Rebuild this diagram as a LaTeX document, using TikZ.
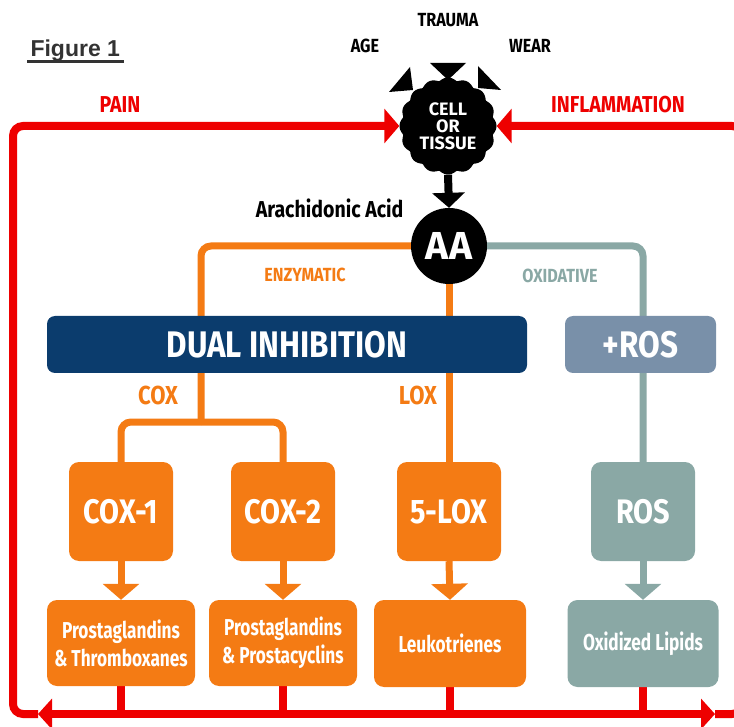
\documentclass[tikz,border=0pt]{standalone}
\usepackage{fontspec}
\setmainfont{Liberation Sans}
\newfontfamily\condfont[FakeStretch=0.85]{Fira Sans}
\newfontfamily\narrowfont[FakeStretch=0.75]{Fira Sans}
\newfontfamily\firafont{Fira Sans}
\usetikzlibrary{arrows.meta,backgrounds,calc}

\definecolor{painred}{HTML}{EE0000}
\definecolor{enzorange}{HTML}{F47B14}
\definecolor{oxteal}{HTML}{8AA8A5}
\definecolor{dualblue}{HTML}{0B3C6D}
\definecolor{rosslate}{HTML}{7990A9}
\definecolor{figgray}{HTML}{333333}

\tikzset{
  redline/.style={draw=painred, line width=8pt},
  orangeline/.style={draw=enzorange, line width=7pt},
  tealline/.style={draw=oxteal, line width=7pt},
  bigtip/.style={-{Triangle[length=16pt,width=36pt]}},
  redtip/.style={-{Triangle[length=15pt,width=34pt]}},
  bustip/.style={-{Triangle[length=14pt,width=30pt]}},
  capslabel/.style={font=\condfont\bfseries\fontsize{#1}{#1}\selectfont},
  bar/.style={rounded corners=8pt, text=white, inner sep=0pt,
    minimum height=57pt, font=\condfont\bfseries\fontsize{37}{40}\selectfont},
  enzyme/.style={rounded corners=10pt, fill=enzorange, text=white, inner sep=0pt,
    minimum width=104pt, minimum height=99pt, font=\condfont\bfseries\fontsize{34}{36}\selectfont},
  product/.style={rounded corners=10pt, fill=enzorange, text=white, inner sep=0pt,
    align=center, minimum width=148pt, minimum height=86pt, font=\narrowfont\bfseries\fontsize{23}{28}\selectfont}
}

\begin{document}
\begin{tikzpicture}[x=1pt, y=-1pt]
  \useasboundingbox (0,0) rectangle (734,727);

  % Title
  \node[anchor=base west, text=figgray, font=\bfseries\fontsize{23}{26}\selectfont] (fig) at (27,57) {Figure 1};
  \draw[figgray, line width=3pt] ([yshift=-5pt]fig.base west) -- ([yshift=-5pt]fig.base east);

  % Cell and causes
  \node[circle, minimum size=97pt, inner sep=0pt, text=white, align=center,
        font=\firafont\bfseries\fontsize{18}{17}\selectfont] (cell) at (448,126) {CELL\\OR\\TISSUE};
  \node[capslabel=19] (lbltrauma) at (448,20) {TRAUMA};
  \node[capslabel=19] (lblage) at (365,46) {AGE};
  \node[capslabel=19] (lblwear) at (530,46) {WEAR};
  \fill ($(cell)+(-18,-63)$) -- ($(cell)+(18,-63)$) -- ($(cell)+(0,-46)$) -- cycle; % trauma
  \fill ($(cell)+(-38,-59)$) -- ($(cell)+(-59,-34)$) -- ($(cell)+(-35,-36)$) -- cycle; % age
  \fill ($(cell)+(30,-60)$) -- ($(cell)+(30,-38)$) -- ($(cell)+(53,-36)$) -- cycle; % wear
  \node[capslabel=23, text=painred] (lblpain) at (120,105) {PAIN};
  \node[capslabel=23, text=painred] (lblinfl) at (618,105) {INFLAMMATION};

  % Arachidonic acid
  \node[circle, fill=black, minimum size=76pt, inner sep=0pt, text=white,
        font=\firafont\bfseries\fontsize{39}{40}\selectfont] (aa) at (449,246) {AA};
  \node[anchor=base east, font=\condfont\bfseries\fontsize{23}{24}\selectfont] (lblaa) at (407,218) {Arachidonic Acid};
  \node[capslabel=19, text=enzorange] (lblenz) at (305,275) {ENZYMATIC};
  \node[capslabel=19, text=oxteal] (lblox) at (560,276) {OXIDATIVE};

  % Inhibition bars
  \node[bar, fill=dualblue, minimum width=480pt] (dual) at (287,344.5) {DUAL INHIBITION};
  \node[bar, fill=rosslate, minimum width=151pt] (plusros) at (640.5,344.5) {+ROS};
  \node[capslabel=26, text=enzorange] (lblcox) at (158,395) {COX};
  \node[capslabel=26, text=enzorange] (lbllox) at (418,395) {LOX};

  % Enzymes
  \node[enzyme] (cox1) at (121,511.5) {COX-1};
  \node[enzyme] (cox2) at (283,511.5) {COX-2};
  \node[enzyme] (lox) at (449,511.5) {5-LOX};
  \node[enzyme, fill=oxteal] (ros) at (643,511.5) {ROS};

  % Products
  \node[product] (p1) at (121,643) {Prostaglandins\\\&~Thromboxanes};
  \node[product] (p2) at (283,643) {Prostaglandins\\\&~Prostacyclins};
  \node[product, minimum width=152pt, minimum height=87pt] (p3) at (450,643.5) {Leukotrienes};
  \node[product, fill=oxteal, minimum width=151pt, minimum height=87pt] (p4) at (643,643.5) {Oxidized Lipids};

  \coordinate (coxsplit) at (201,422);
  \coordinate (busL) at (38,714);
  \coordinate (busR) at (715,714);
  \coordinate (cornerBL) at (13,714);
  \coordinate (cornerTL) at (13,126);
  \coordinate (cornerBR) at (742,714);
  \coordinate (cornerTR) at (742,126);

  \begin{pgfonlayer}{background}
    % Cell outline
    \begin{scope}[shift={(cell.center)}]
      \fill plot[domain=0:359, samples=240, smooth cycle] (\x:{45.5+3*abs(cos(8*\x))});
    \end{scope}
    \draw[line width=8pt, -{Triangle[length=15pt,width=32pt]}] (cell.south) -- (aa.north);

    % Enzymatic pathway
    \draw[orangeline, rounded corners=10pt] (aa.west) -| (coxsplit);
    \draw[orangeline, rounded corners=10pt] (coxsplit) -| (cox1.north);
    \draw[orangeline, rounded corners=10pt] (coxsplit) -| (cox2.north);
    \draw[orangeline] (aa.south) -- (lox.north);
    \draw[orangeline, bigtip] (cox1.south) -- (p1.north);
    \draw[orangeline, bigtip] (cox2.south) -- (p2.north);
    \draw[orangeline, bigtip] (lox.south) -- (p3.north);

    % Oxidative pathway
    \draw[tealline, rounded corners=10pt] (aa.east) -| (ros.north);
    \draw[tealline, bigtip] (ros.south) -- (p4.north);

    % Feedback loop
    \foreach \p in {p1,p2,p3,p4} {
      \draw[redline] (\p.south) -- (\p.south |- busL);
    }
    \draw[redline, bustip] (p4.south |- busL) -- (busL);
    \draw[redline, bustip] (p1.south |- busL) -- (busR);
    \draw[redline, rounded corners=10pt, redtip] (busL) -- (cornerBL) -- (cornerTL) -- (cell.west);
    \draw[redline, rounded corners=10pt, redtip] (busR) -- (cornerBR) -- (cornerTR) -- (cell.east);
  \end{pgfonlayer}
\end{tikzpicture}
\end{document}
